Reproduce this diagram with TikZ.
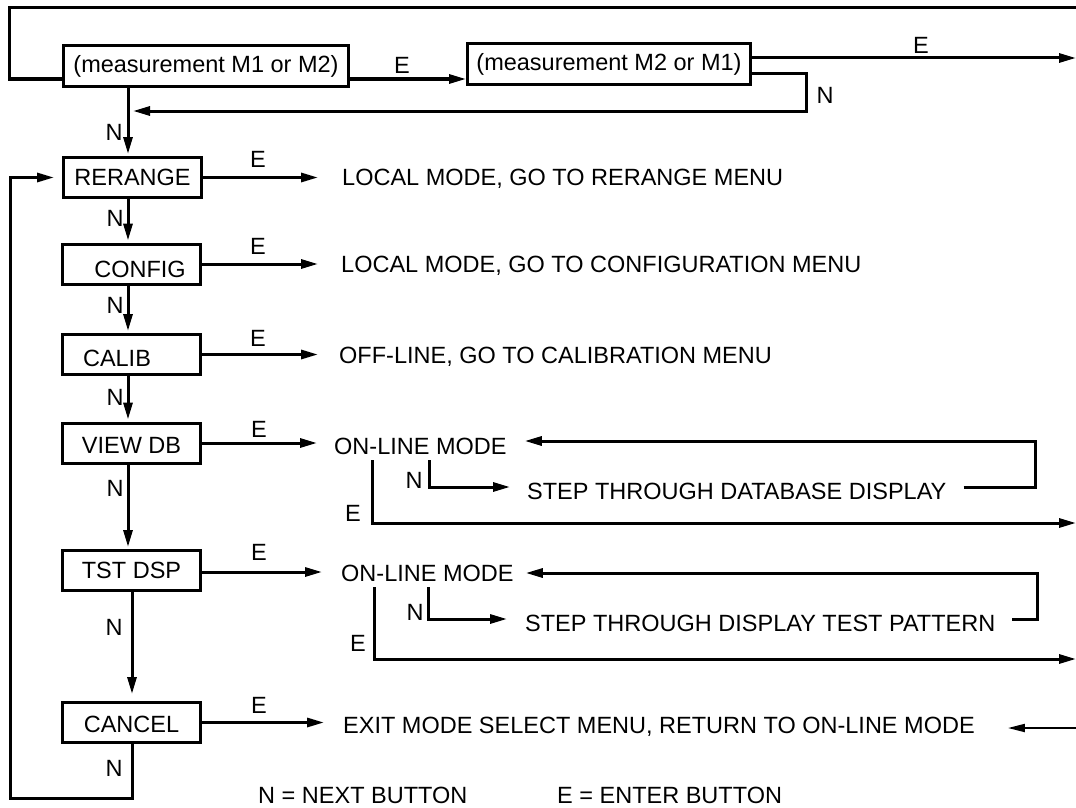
\documentclass[tikz,border=0pt]{standalone}
\usepackage{fontspec}
\setmainfont{Liberation Sans}
\usetikzlibrary{arrows.meta}
\begin{document}
\begin{tikzpicture}[x=1pt,y=-1pt,
  font=\fontsize{23.5}{28}\selectfont,
  box/.style={draw,line width=3pt,minimum width=138pt,minimum height=40pt,inner sep=0pt,text height=16.8pt,text depth=0pt},
  mbox/.style={draw,line width=3pt,minimum height=41pt,inner sep=0pt},
  txt/.style={inner sep=0pt,text height=16.8pt,text depth=0pt,anchor=west},
  lbl/.style={inner sep=0pt,text height=16.8pt,text depth=0pt},
  ln/.style={line width=3pt},
  arr/.style={ln,-{Triangle[length=17pt,width=9pt]}}]
\useasboundingbox (0,0) rectangle (1076,808);

% boxes
\node[mbox,minimum width=285pt] (m1) at (206,66) {(measurement M1 or M2)};
\node[mbox,minimum width=283pt] (m2) at (609,64) {(measurement M2 or M1)};
\node[box] (rer) at (132.5,177.5) {RERANGE};
\node[box,text height=26.8pt] (cfg) at (131.5,264) {\hspace*{17pt}CONFIG};
\node[box,text height=23.8pt] (cal) at (131.5,354.5) {CALIB\hspace*{29pt}};
\node[box,text height=20.8pt] (vdb) at (131.5,443) {VIEW DB};
\node[box] (tst) at (131.5,570.5) {TST DSP};
\node[box,text height=20.8pt] (cnc) at (131.5,722.5) {CANCEL};

% texts
\node[txt] (t1) at (342,177) {LOCAL MODE, GO TO RERANGE MENU};
\node[txt] (t2) at (341,264) {LOCAL MODE, GO TO CONFIGURATION MENU};
\node[txt] (t3) at (339,355) {OFF-LINE, GO TO CALIBRATION MENU};
\node[txt] (ol1) at (334,446) {ON-LINE MODE};
\node[txt] (st1) at (527,491) {STEP THROUGH DATABASE DISPLAY};
\node[txt] (ol2) at (341,573) {ON-LINE MODE};
\node[txt] (st2) at (525,623) {STEP THROUGH DISPLAY TEST PATTERN};
\node[txt] (ex) at (343,725) {EXIT MODE SELECT MENU, RETURN TO ON-LINE MODE};
\node[txt] (leg1) at (258,795) {N = NEXT BUTTON};
\node[txt] (leg2) at (557,795) {E = ENTER BUTTON};

% labels
\node[lbl] (e0) at (402,65) {E};
\node[lbl] (e00) at (921,45) {E};
\node[lbl] (n00) at (825,95) {N};
\node[lbl] (e1) at (258,159) {E};
\node[lbl] (e2) at (258,246) {E};
\node[lbl] (e3) at (258,338) {E};
\node[lbl] (e4) at (259,429) {E};
\node[lbl] (e5) at (259,552) {E};
\node[lbl] (e6) at (259,705) {E};
\node[lbl] (n0) at (114,132) {N};
\node[lbl] (n1) at (115,218) {N};
\node[lbl] (n2) at (115,305) {N};
\node[lbl] (n3) at (115,397) {N};
\node[lbl] (n4) at (115,488) {N};
\node[lbl] (n5) at (114,627) {N};
\node[lbl] (n6) at (114,768) {N};
\node[lbl] (dn) at (414,480) {N};
\node[lbl] (de) at (353,513) {E};
\node[lbl] (tn) at (415,612) {N};
\node[lbl] (te) at (358,643) {E};

% coordinates
\coordinate (xN) at (128,0);
\coordinate (xN2) at (132,0);
\coordinate (topR) at (1076,8);
\coordinate (m2out) at (1076,58);
\coordinate (nret) at (133,111);
\coordinate (d1E) at (372,460);
\coordinate (d1N) at (429,460);
\coordinate (d1R) at (1076,523);
\coordinate (d2E) at (374,587);
\coordinate (d2N) at (428,587);
\coordinate (d2R) at (1076,659);
\coordinate (exR) at (1076,728);

% top loop
\draw[ln] (topR) -- (9,8) -- (9,79) -- ([yshift=-13pt]m1.west);
\draw[arr] ([yshift=-13pt]m1.east) -- ([yshift=-13pt]m1.east -| m2.west);
\draw[arr] (m2.east |- m2out) -- (m2out);
\draw[arr] ([yshift=-10pt]m2.east) -- (806,74) -- (806,111) -- (nret);

% vertical N chain
\draw[arr,shorten >=2pt] (m1.south -| xN) -- (rer.north -| xN);
\draw[arr,shorten >=2pt] (rer.south -| xN) -- (cfg.north -| xN);
\draw[arr,shorten >=2pt] (cfg.south -| xN) -- (cal.north -| xN);
\draw[arr,shorten >=2pt] (cal.south -| xN) -- (vdb.north -| xN);
\draw[arr,shorten >=2pt] (vdb.south -| xN) -- (tst.north -| xN);
\draw[arr,shorten >=7pt] (tst.south -| xN2) -- (cnc.north -| xN2);
\draw[arr,shorten >=8pt] (cnc.south -| xN2) |- (10,798) |- (rer.west);

% E arrows
\draw[arr,shorten >=24pt] (rer.east) -- (rer.east -| t1.west);
\draw[arr,shorten >=23pt] (cfg.east) -- (cfg.east -| t2.west);
\draw[arr,shorten >=21pt] (cal.east) -- (cal.east -| t3.west);
\draw[arr,shorten >=17pt] (vdb.east) -- (vdb.east -| ol1.west);
\draw[arr,shorten >=19pt] ([yshift=-1.5pt]tst.east) -- ([yshift=-1.5pt]tst.east -| ol2.west);
\draw[arr,shorten >=19pt] (cnc.east) -- (cnc.east -| ex.west);

% database loop
\draw[arr] (d1E) |- (d1R);
\draw[arr] (d1N) |- ([xshift=-17pt,yshift=4pt]st1.west);
\draw[arr] ([xshift=17pt,yshift=4pt]st1.east) -| (1035,441) -- ([xshift=18pt,yshift=5pt]ol1.east);

% test pattern loop
\draw[arr] (d2E) |- (d2R);
\draw[arr] (d2N) |- ([xshift=-18pt,yshift=4pt]st2.west);
\draw[arr] ([xshift=17pt,yshift=4pt]st2.east) -| (1037,573) -- ([xshift=12pt]ol2.east);

% exit return
\draw[line width=2pt,-{Triangle[length=17pt,width=8pt]},shorten >=33pt] (exR) -- (exR -| ex.east);
\end{tikzpicture}
\end{document}
